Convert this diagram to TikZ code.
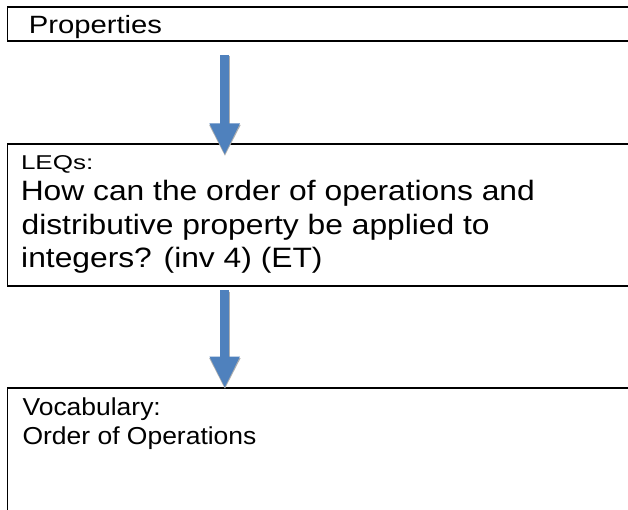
\documentclass[tikz,border=0pt]{standalone}
\usepackage{fontspec}
\setmainfont{Liberation Sans}
\newfontfamily\propfont[FakeStretch=1.17]{Liberation Sans}
\newfontfamily\leqhead[FakeStretch=1.3]{Liberation Sans}
\newfontfamily\leqfont[FakeStretch=1.135]{Liberation Sans}
\newfontfamily\vocfont[FakeStretch=1.08]{Liberation Sans}
\usetikzlibrary{arrows.meta}
\definecolor{arrowblue}{RGB}{79,129,189}
\definecolor{shadowgray}{RGB}{175,175,175}
\tikzset{
  framebox/.style={draw=black, line width=1.7pt, fill=none, inner sep=0pt, outer sep=0pt, anchor=north west, minimum width=660pt},
  txt/.style={anchor=base west, inner sep=0pt, outer sep=0pt, text=black},
  flowarrow/.style={draw=arrowblue, line width=9.3pt, -{Triangle[length=31.5pt,width=28pt]}},
  flowshadow/.style={draw=shadowgray, line width=9.3pt, -{Triangle[length=31.5pt,width=29pt]}}
}
\begin{document}
\begin{tikzpicture}[x=1pt,y=-1pt]
\useasboundingbox (0,0) rectangle (628,510);
\clip (0,0) rectangle (628,510);
\fill[white] (0,0) rectangle (628,510);

% boxes
\node[framebox, minimum height=34pt] (props) at (7.5,7) {};
\node[framebox, minimum height=142pt] (leqs) at (7.5,144) {};
\node[framebox, minimum height=160pt] (vocab) at (7.5,388) {};

% texts
\node[txt] (tprops) at (28.8,34) {\propfont\fontsize{25pt}{25pt}\selectfont Properties};
\node[txt] (tleq) at (21.0,169.5) {\leqhead\fontsize{20pt}{20pt}\selectfont LEQs:};
\node[txt] (tleqa) at (20.8,201) {\leqfont\fontsize{28pt}{28pt}\selectfont How can the order of operations and};
\node[txt] (tleqb) at (21.6,234.5) {\leqfont\fontsize{28pt}{28pt}\selectfont distributive property be applied to};
\node[txt] (tleqc) at (21.2,268) {\leqfont\fontsize{28pt}{28pt}\selectfont integers? (inv 4) (ET)};
\node[txt] (tvoc) at (22.6,415.5) {\vocfont\fontsize{24.5pt}{24.5pt}\selectfont Vocabulary:};
\node[txt] (tvocb) at (22.6,444.5) {\vocfont\fontsize{24.5pt}{24.5pt}\selectfont Order of Operations};

% arrows
\coordinate (a1s) at (224.7,55);
\coordinate (a1e) at (224.7,155);
\coordinate (a2s) at (224.7,290);
\coordinate (a2e) at (224.7,388);
\coordinate (a1ss) at (224.9,56.5);
\coordinate (a1es) at (224.9,156.5);
\coordinate (a2ss) at (224.9,291.5);
\coordinate (a2es) at (224.9,389.5);
\draw[flowshadow] (a1ss) -- (a1es);
\draw[flowarrow] (a1s) -- (a1e);
\draw[flowshadow] (a2ss) -- (a2es);
\draw[flowarrow] (a2s) -- (a2e);
\end{tikzpicture}
\end{document}
